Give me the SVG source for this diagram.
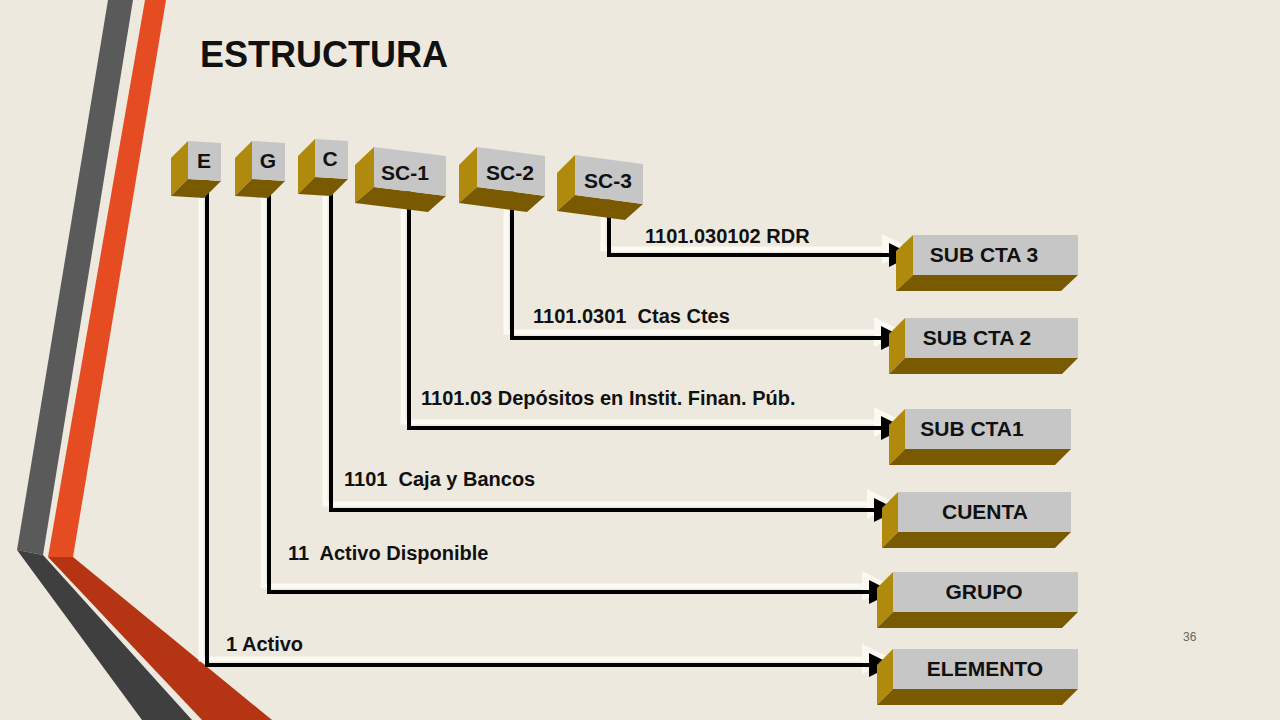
<svg xmlns="http://www.w3.org/2000/svg" width="1280" height="720" viewBox="0 0 1280 720">
<defs>
<style>
text{font-family:"Liberation Sans",Arial,sans-serif;font-weight:bold;fill:#111}
.f{fill:#c6c6c6}.l{fill:#b08a0c}.b{fill:#7a5a00}
.sh{fill:none;stroke:#fbf9f2;stroke-width:5}
.ln{fill:none;stroke:#000;stroke-width:4}
.lab{font-size:20px}
.bl{font-size:21px}
</style>
<marker id="a" markerWidth="6" markerHeight="6" refX="5" refY="3" orient="auto" markerUnits="strokeWidth"><path d="M0,0L6,3L0,6z" fill="#000"/></marker>
<marker id="w" markerWidth="6" markerHeight="6" refX="5" refY="3" orient="auto" markerUnits="strokeWidth"><path d="M0,0L6,3L0,6z" fill="#fbf9f2"/></marker>
</defs>
<rect width="1280" height="720" fill="#ede9df"/>
<g id="decor">
<polygon points="108,0 133,0 43,555 17,550" fill="#5a5a5a"/>
<polygon points="17,550 43,555 192,720 142,720" fill="#3f3f3f"/>
<polygon points="145,0 166,0 73,557 48,557" fill="#e64c22"/>
<polygon points="48,557 73,557 272,720 202,720" fill="#b53413"/>
</g>
<text x="200" y="67" font-size="36">ESTRUCTURA</text>
<text x="1183" y="641" font-size="12" font-weight="normal" style="font-weight:normal;fill:#666">36</text>
<g id="connectors">
<path class="sh" d="M201,174V659H887" marker-end="url(#w)"/>
<path class="sh" d="M263,174V586H887" marker-end="url(#w)"/>
<path class="sh" d="M325,174V504H892" marker-end="url(#w)"/>
<path class="sh" d="M403,184V422H899" marker-end="url(#w)"/>
<path class="sh" d="M506,184V332H899" marker-end="url(#w)"/>
<path class="sh" d="M603,192V249H907" marker-end="url(#w)"/>
<path class="ln" d="M207,180V665H889" marker-end="url(#a)"/>
<path class="ln" d="M269,180V592H889" marker-end="url(#a)"/>
<path class="ln" d="M331,180V510H894" marker-end="url(#a)"/>
<path class="ln" d="M409,190V428H901" marker-end="url(#a)"/>
<path class="ln" d="M512,190V338H901" marker-end="url(#a)"/>
<path class="ln" d="M609,196V255H909" marker-end="url(#a)"/>
</g>
<g id="labels" class="lab">
<text x="226" y="651" class="lab">1 Activo</text>
<text x="288" y="560" class="lab" xml:space="preserve">11  Activo Disponible</text>
<text x="344" y="486" class="lab" xml:space="preserve">1101  Caja y Bancos</text>
<text x="421" y="405" class="lab">1101.03 Depósitos en Instit. Finan. Púb.</text>
<text x="533" y="323" class="lab" xml:space="preserve">1101.0301  Ctas Ctes</text>
<text x="645" y="243" class="lab">1101.030102 RDR</text>
</g>
<g id="E"><polygon class="l" points="188,141 188,179 171,196 171,158"/><polygon class="b" points="188,179 221,181 204,198 171,196"/><polygon class="f" points="188,141 221,143 221,181 188,179"/><text x="204" y="168" class="bl" text-anchor="middle">E</text></g>
<g id="G"><polygon class="l" points="252,141 252,179 235,196 235,158"/><polygon class="b" points="252,179 285,181 268,198 235,196"/><polygon class="f" points="252,141 285,143 285,181 252,179"/><text x="268" y="168" class="bl" text-anchor="middle">G</text></g>
<g id="C"><polygon class="l" points="315,139 315,177 298,194 298,156"/><polygon class="b" points="315,177 348,179 331,196 298,194"/><polygon class="f" points="315,139 348,141 348,179 315,177"/><text x="330" y="166" class="bl" text-anchor="middle">C</text></g>
<g id="SC-1"><polygon class="l" points="374,147 374,187 355,203 355,165"/><polygon class="b" points="374,187 446,196 428,212 355,203"/><polygon class="f" points="374,147 446,156 446,196 374,187"/><text x="405" y="180" class="bl" text-anchor="middle">SC-1</text></g>
<g id="SC-2"><polygon class="l" points="477,147 477,187 459,203 459,165"/><polygon class="b" points="477,187 545,196 527,212 459,203"/><polygon class="f" points="477,147 545,156 545,196 477,187"/><text x="510" y="180" class="bl" text-anchor="middle">SC-2</text></g>
<g id="SC-3"><polygon class="l" points="575,155 575,195 557,211 557,173"/><polygon class="b" points="575,195 643,204 625,220 557,211"/><polygon class="f" points="575,155 643,164 643,204 575,195"/><text x="608" y="188" class="bl" text-anchor="middle">SC-3</text></g>
<g id="SUBCTA3"><polygon class="l" points="913,235 913,275 896,291 896,251"/><polygon class="b" points="913,275 1078,275 1061,291 896,291"/><rect class="f" x="913" y="235" width="165" height="40"/><text x="984" y="262" class="bl" text-anchor="middle">SUB CTA 3</text></g>
<g id="SUBCTA2"><polygon class="l" points="905,318 905,358 889,374 889,334"/><polygon class="b" points="905,358 1078,358 1062,374 889,374"/><rect class="f" x="905" y="318" width="173" height="40"/><text x="977" y="345" class="bl" text-anchor="middle">SUB CTA 2</text></g>
<g id="SUBCTA1"><polygon class="l" points="905,409 905,449 889,465 889,425"/><polygon class="b" points="905,449 1071,449 1055,465 889,465"/><rect class="f" x="905" y="409" width="166" height="40"/><text x="972" y="436" class="bl" text-anchor="middle">SUB CTA1</text></g>
<g id="CUENTA"><polygon class="l" points="898,492 898,532 882,548 882,508"/><polygon class="b" points="898,532 1071,532 1055,548 882,548"/><rect class="f" x="898" y="492" width="173" height="40"/><text x="985" y="519" class="bl" text-anchor="middle">CUENTA</text></g>
<g id="GRUPO"><polygon class="l" points="893,572 893,612 877,628 877,588"/><polygon class="b" points="893,612 1078,612 1062,628 877,628"/><rect class="f" x="893" y="572" width="185" height="40"/><text x="984" y="599" class="bl" text-anchor="middle">GRUPO</text></g>
<g id="ELEMENTO"><polygon class="l" points="893,649 893,689 877,705 877,665"/><polygon class="b" points="893,689 1078,689 1062,705 877,705"/><rect class="f" x="893" y="649" width="185" height="40"/><text x="985" y="676" class="bl" text-anchor="middle">ELEMENTO</text></g>
</svg>
